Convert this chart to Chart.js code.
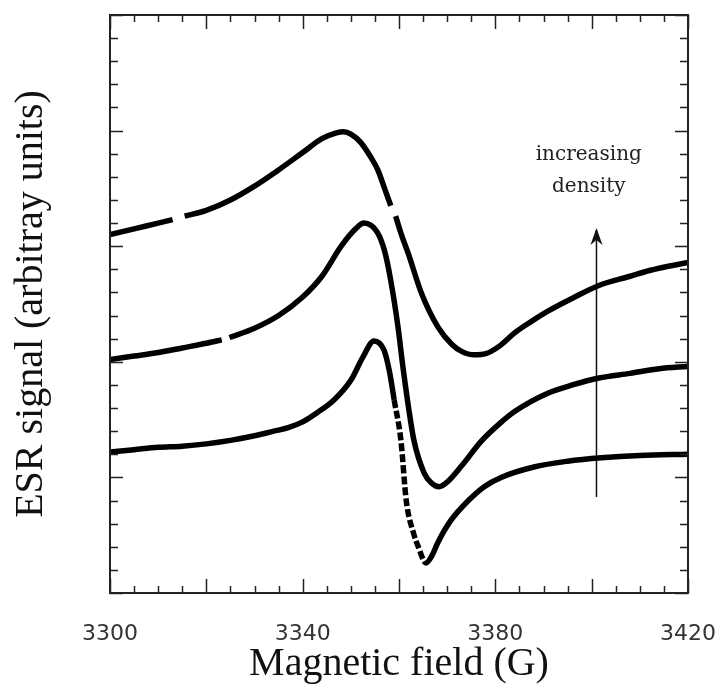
<!DOCTYPE html>
<html>
<head>
<meta charset="utf-8">
<script src="https://cdn.jsdelivr.net/npm/chart.js@4"></script>
<style>
  html, body { margin: 0; padding: 0; background: #fff; }
  #wrap { width: 716px; height: 692px; }
</style>
</head>
<body>
<div id="wrap"><canvas id="esr-chart"></canvas></div>
<script>
// field values (G) and signal (arbitrary units)
// null = a gap in the trace
const topField  = [3300, 3305, 3310, 3313, 3314.2, 3315.5, 3320, 3325, 3330, 3335, 3340, 3344, 3347, 3348.5, 3350, 3352, 3354, 3355.6, 3357, 3358.3, 3358.8, 3359.3, 3360.5, 3361.9, 3364.6, 3368.1, 3371, 3373, 3375.6, 3378, 3381, 3384, 3387.5, 3391, 3396, 3401.5, 3408, 3412, 3420]
const topSignal = [15.5, 15.75, 16.0, 16.15, null, 16.3, 16.55, 17.0, 17.6, 18.3, 19.05, 19.65, 19.9, 19.95, 19.85, 19.5, 18.9, 18.3, 17.5, 16.75, null, 16.3, 15.5, 14.7, 13.0, 11.5, 10.75, 10.45, 10.3, 10.35, 10.7, 11.25, 11.75, 12.2, 12.75, 13.3, 13.7, 13.95, 14.3]

const midField  = [3300, 3305, 3310, 3315, 3320, 3323.2, 3324, 3324.8, 3330, 3335, 3340, 3344, 3348, 3351, 3352.7, 3355.5, 3357, 3358.3, 3359.8, 3360.8, 3362, 3363.1, 3365.2, 3366.8, 3368.3, 3370, 3373, 3377, 3381, 3384, 3391, 3396, 3401.5, 3408, 3414, 3420]
const midSignal = [10.1, 10.25, 10.4, 10.6, 10.8, 10.95, null, 11.05, 11.45, 12.0, 12.8, 13.7, 15.0, 15.75, 16.0, 15.6, 14.8, 13.5, 11.5, 9.8, 8.0, 6.6, 5.2, 4.75, 4.6, 4.8, 5.5, 6.55, 7.35, 7.85, 8.65, 9.0, 9.3, 9.5, 9.7, 9.8]

const lowField  = [3300, 3305, 3310, 3315, 3320, 3325, 3330, 3334, 3337, 3340, 3343, 3346.5, 3350, 3352.5, 3354.8, 3356.9, 3358, 3359, 3360.4, 3361.5, 3363, 3364, 3365.6, 3366.8, 3368.1, 3370.8, 3374.4, 3377.7, 3381.2, 3388, 3395, 3402, 3410, 3420]
const lowSignal = [6.1, 6.2, 6.3, 6.35, 6.45, 6.6, 6.8, 7.0, 7.15, 7.4, 7.8, 8.35, 9.2, 10.2, 10.9, 10.5, 9.6, 8.35, 6.6, 4.0, 2.6, 2.0, 1.3, 1.6, 2.2, 3.15, 4.0, 4.6, 5.0, 5.45, 5.7, 5.85, 5.95, 6.0]

// arrow "increasing density"
const arrowField  = [3401, 3401]
const arrowSignal = [4.15, 15.7]
const noteLines = ['increasing', 'density']
const noteField = 3399.4
const noteSignal = [18.73, 17.34]

const xTickLabels = [3300, 3340, 3380, 3420]

function pts(xs, ys) {
  return xs.map((x, i) => ({ x: x, y: ys[i] }))
}

function trace(xs, ys, dashFrom, dashTo) {
  return {
    data: pts(xs, ys),
    borderColor: '#000',
    borderWidth: 5.5,
    pointRadius: 0,
    cubicInterpolationMode: 'monotone',
    spanGaps: false,
    segment: {
      borderDash: ctx => (dashFrom != null && ctx.p0.parsed.x >= dashFrom && ctx.p1.parsed.x <= dashTo) ? [8, 3] : undefined
    }
  }
}

// inward tick marks on all four sides + frame
const frameTicks = {
  id: 'frameTicks',
  afterDatasetsDraw(chart) {
    const { ctx, chartArea: a, scales: { x, y } } = chart
    ctx.save()
    ctx.strokeStyle = '#222'
    ctx.lineWidth = 1.5
    ctx.beginPath()
    for (let v = 3300; v <= 3420; v += 5) {
      const px = Math.round(x.getPixelForValue(v)) + 0.5
      const len = v % 20 === 0 ? 14 : 7
      ctx.moveTo(px, a.bottom); ctx.lineTo(px, a.bottom - len)
      ctx.moveTo(px, a.top); ctx.lineTo(px, a.top + len)
    }
    for (let v = 0; v <= 25; v += 1) {
      const py = Math.round(y.getPixelForValue(v)) + 0.5
      const len = v % 5 === 0 ? 13 : 8
      ctx.moveTo(a.left, py); ctx.lineTo(a.left + len, py)
      ctx.moveTo(a.right, py); ctx.lineTo(a.right - len, py)
    }
    ctx.stroke()
    ctx.lineWidth = 2
    ctx.strokeRect(a.left, a.top, a.right - a.left, a.bottom - a.top)
    ctx.restore()
  }
}

const arrowNote = {
  id: 'arrowNote',
  afterDatasetsDraw(chart) {
    const { ctx, scales: { x, y } } = chart
    const tx = x.getPixelForValue(arrowField[1])
    const ty = y.getPixelForValue(arrowSignal[1])
    ctx.save()
    ctx.fillStyle = '#111'
    ctx.beginPath()
    ctx.moveTo(tx, ty - 2)
    ctx.lineTo(tx - 6, ty + 15)
    ctx.lineTo(tx, ty + 10)
    ctx.lineTo(tx + 6, ty + 15)
    ctx.closePath()
    ctx.fill()
    ctx.font = '20px "DejaVu Serif"'
    ctx.textAlign = 'center'
    ctx.textBaseline = 'alphabetic'
    ctx.fillStyle = '#222'
    noteLines.forEach((t, i) => {
      ctx.fillText(t, x.getPixelForValue(noteField), y.getPixelForValue(noteSignal[i]))
    })
    ctx.restore()
  }
}

new Chart(document.querySelector('#esr-chart'), {
  type: 'line',
  data: {
    datasets: [
      trace(topField, topSignal),
      trace(midField, midSignal),
      trace(lowField, lowSignal, 3359, 3365.7),
      {
        data: pts(arrowField, arrowSignal),
        borderColor: '#111',
        borderWidth: 1.5,
        pointRadius: 0
      }
    ]
  },
  options: {
    responsive: true,
    maintainAspectRatio: false,
    animation: false,
    devicePixelRatio: 1,
    layout: { padding: { top: 15, right: 28, left: 0, bottom: 0 } },
    plugins: {
      legend: { display: false },
      tooltip: { enabled: false }
    },
    scales: {
      x: {
        type: 'linear',
        min: 3300,
        max: 3420,
        afterBuildTicks: s => { s.ticks = xTickLabels.map(v => ({ value: v })) },
        afterFit: s => {
          s.height = 99
          s.paddingLeft = 0
          s.paddingRight = 0
        },
        grid: { display: false, drawTicks: false },
        border: { display: false },
        ticks: {
          autoSkip: false,
          maxRotation: 0,
          padding: 28,
          color: '#333',
          font: { family: 'DejaVu Sans', size: 22 },
          callback: v => String(v)
        },
        title: {
          display: true,
          text: 'Magnetic field (G)',
          color: '#111',
          font: { family: 'Liberation Serif', size: 40 },
          padding: { top: 0, bottom: 4 }
        }
      },
      y: {
        type: 'linear',
        min: 0,
        max: 25,
        afterFit: s => { s.width = 110 },
        grid: { display: false, drawTicks: false },
        border: { display: false },
        ticks: { display: false },
        title: {
          display: true,
          text: 'ESR signal (arbitray units)',
          color: '#111',
          font: { family: 'Liberation Serif', size: 40 },
          padding: { top: 7, bottom: 0 }
        }
      }
    }
  },
  plugins: [frameTicks, arrowNote]
})
</script>
</body>
</html>
